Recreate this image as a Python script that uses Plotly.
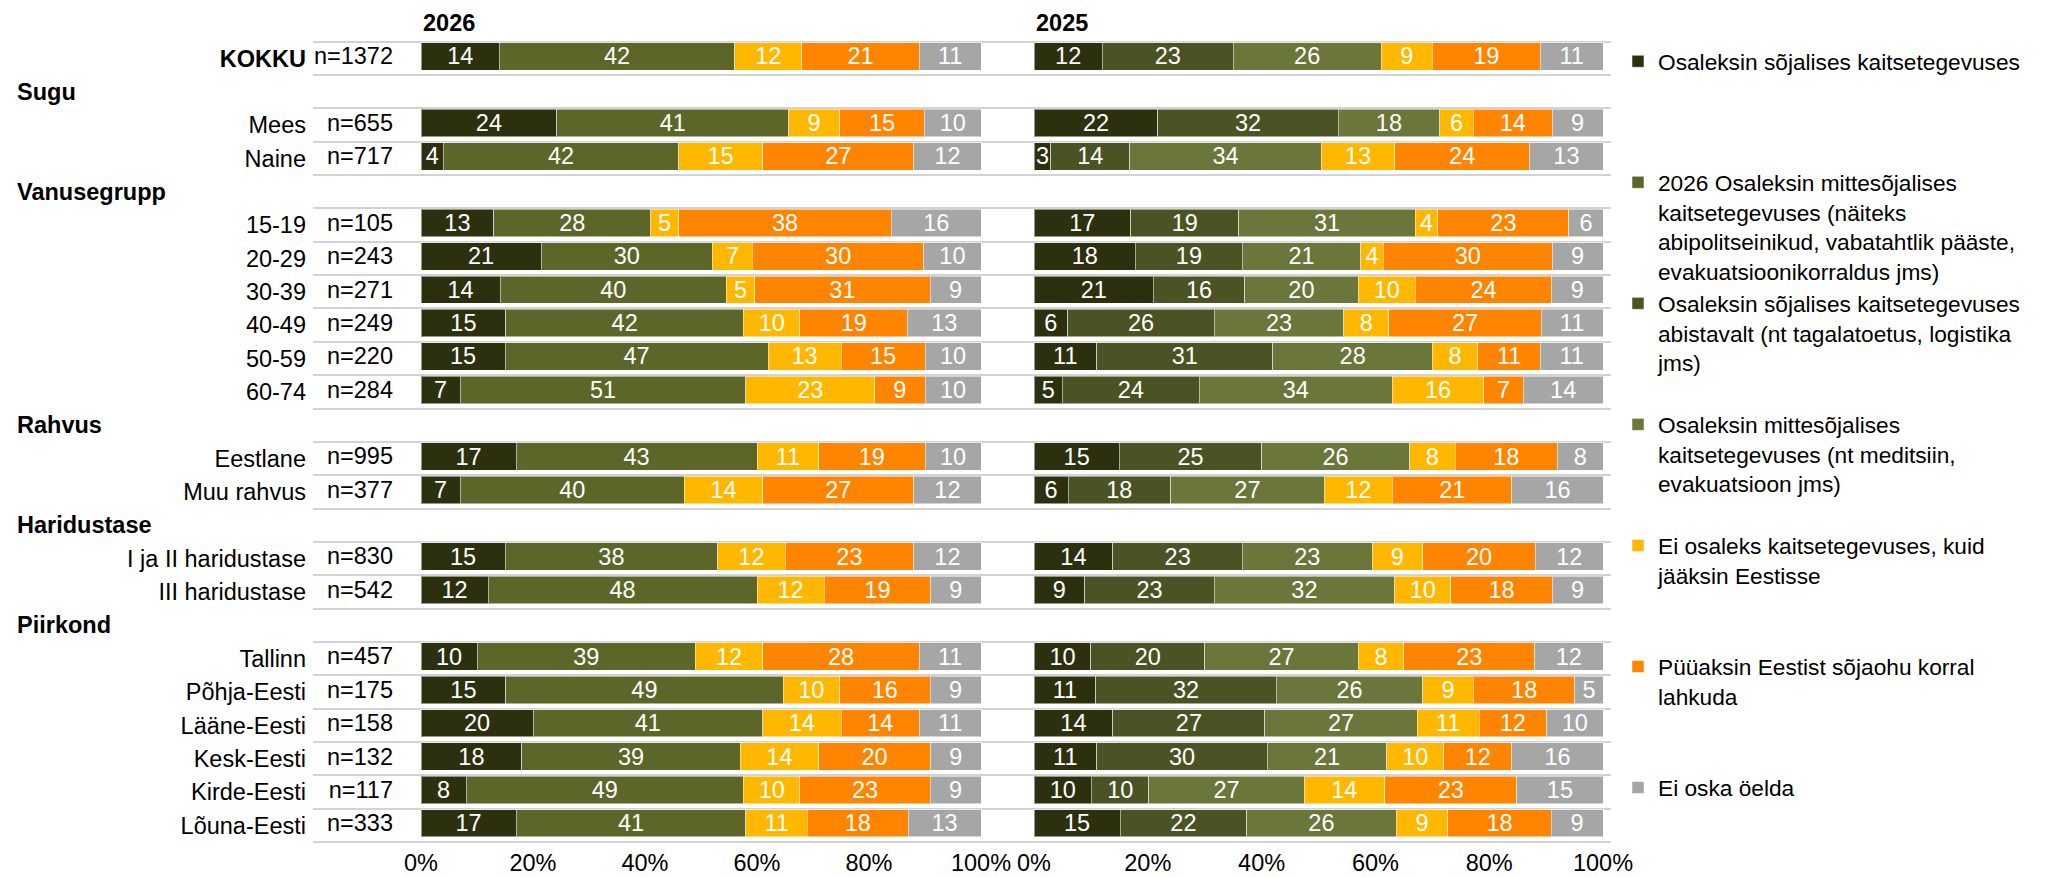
import plotly.graph_objects as go

W, H = 2045, 877
FS = 23.5
FS_LEG = 22.7
FONT = "Liberation Sans, Arial, sans-serif"

# ridade rühmad ja sildid
groups = ["", "Sugu", "Vanusegrupp", "Rahvus", "Haridustase", "Piirkond"]
group_sizes = [1, 2, 6, 2, 2, 6]
labels = ["KOKKU", "Mees", "Naine", "15-19", "20-29", "30-39", "40-49", "50-59", "60-74",
          "Eestlane", "Muu rahvus", "I ja II haridustase", "III haridustase",
          "Tallinn", "Põhja-Eesti", "Lääne-Eesti", "Kesk-Eesti", "Kirde-Eesti", "Lõuna-Eesti"]
n_values = [1372, 655, 717, 105, 243, 271, 249, 220, 284, 995, 377, 830, 542,
            457, 175, 158, 132, 117, 333]

# 2026
mil_2026 = [14, 24, 4, 13, 21, 14, 15, 15, 7, 17, 7, 15, 12, 10, 15, 20, 18, 8, 17]
civ_2026 = [42, 41, 42, 28, 30, 40, 42, 47, 51, 43, 40, 38, 48, 39, 49, 41, 39, 49, 41]
stay_2026 = [12, 9, 15, 5, 7, 5, 10, 13, 23, 11, 14, 12, 12, 12, 10, 14, 14, 10, 11]
leave_2026 = [21, 15, 27, 38, 30, 31, 19, 15, 9, 19, 27, 23, 19, 28, 16, 14, 20, 23, 18]
dk_2026 = [11, 10, 12, 16, 10, 9, 13, 10, 10, 10, 12, 12, 9, 11, 9, 11, 9, 9, 13]

# 2025
mil_2025 = [12, 22, 3, 17, 18, 21, 6, 11, 5, 15, 6, 14, 9, 10, 11, 14, 11, 10, 15]
aux_2025 = [23, 32, 14, 19, 19, 16, 26, 31, 24, 25, 18, 23, 23, 20, 32, 27, 30, 10, 22]
civ_2025 = [26, 18, 34, 31, 21, 20, 23, 28, 34, 26, 27, 23, 32, 27, 26, 27, 21, 27, 26]
stay_2025 = [9, 6, 13, 4, 4, 10, 8, 8, 16, 8, 12, 9, 10, 8, 9, 11, 10, 14, 9]
leave_2025 = [19, 14, 24, 23, 30, 24, 27, 11, 7, 18, 21, 20, 18, 23, 18, 12, 12, 23, 18]
dk_2025 = [11, 9, 13, 6, 9, 9, 11, 11, 14, 8, 16, 12, 9, 12, 5, 10, 16, 15, 9]

x_ticks = [0, 20, 40, 60, 80, 100]

names = {
    "mil": "Osaleksin sõjalises kaitsetegevuses",
    "civ26": "2026 Osaleksin mittesõjalises<br>kaitsetegevuses (näiteks<br>"
             "abipolitseinikud, vabatahtlik pääste,<br>evakuatsioonikorraldus jms)",
    "aux": "Osaleksin sõjalises kaitsetegevuses<br>abistavalt (nt tagalatoetus, logistika<br>jms)",
    "civ25": "Osaleksin mittesõjalises<br>kaitsetegevuses (nt meditsiin,<br>evakuatsioon jms)",
    "stay": "Ei osaleks kaitsetegevuses, kuid<br>jääksin Eestisse",
    "leave": "Püüaksin Eestist sõjaohu korral<br>lahkuda",
    "dk": "Ei oska öelda",
}
colors = {
    "mil": "#2D300E", "civ26": "#5C6629", "aux": "#4B5324", "civ25": "#6A763A",
    "stay": "#FFB700", "leave": "#FF8400", "dk": "#A6A6A6",
}

# ridade asukohad (päised eraldi ridadel)
row_pos, header_pos = [], {}
pos = 0
for g, size in zip(groups, group_sizes):
    if g:
        header_pos[g] = pos
        pos += 1
    for _ in range(size):
        row_pos.append(pos)
        pos += 1
n_rows = pos


def pad(s, lines=4):
    # legendi kirjed ühekõrgused (viimane jääb lühikeseks)
    if s == names["dk"]:
        return s
    return s + "<br>\u00a0" * (lines - s.count("<br>") - 1)


def bar(values, key, xa, ya, show):
    return go.Bar(
        x=values, y=row_pos, orientation="h",
        name=pad(names[key]), showlegend=show,
        text=values, texttemplate="%{text}",
        textposition="inside", insidetextanchor="middle", textangle=0,
        textfont=dict(color="white", size=FS, family=FONT),
        marker=dict(color=colors[key], line=dict(color="rgba(255,255,255,0.5)", width=1)),
        width=0.82, offset=-0.47,
        xaxis=xa, yaxis=ya,
        hovertemplate="%{text}<extra></extra>",
    )


fig = go.Figure()
fig.add_trace(bar(mil_2026, "mil", "x", "y", True))
fig.add_trace(bar(mil_2025, "mil", "x2", "y2", False))
fig.add_trace(bar(civ_2026, "civ26", "x", "y", True))
fig.add_trace(bar(aux_2025, "aux", "x2", "y2", True))
fig.add_trace(bar(civ_2025, "civ25", "x2", "y2", True))
fig.add_trace(bar(stay_2026, "stay", "x", "y", True))
fig.add_trace(bar(stay_2025, "stay", "x2", "y2", False))
fig.add_trace(bar(leave_2026, "leave", "x", "y", True))
fig.add_trace(bar(leave_2025, "leave", "x2", "y2", False))
fig.add_trace(bar(dk_2026, "dk", "x", "y", True))
fig.add_trace(bar(dk_2025, "dk", "x2", "y2", False))

# n= sildid
fig.add_trace(go.Scatter(
    x=[-5.0] * len(n_values), y=row_pos, mode="text",
    text=[f"n={n}" for n in n_values], textposition="middle left",
    textfont=dict(size=FS, color="black", family=FONT),
    showlegend=False, hoverinfo="skip", xaxis="x", yaxis="y",
))

# pikslid -> paber
x26_0, x26_100 = 421, 981
x25_0, x25_100 = 1034, 1603
left, mid, right = 313, 1008, 1611
top, bottom = 41.7, 842
row_h = (bottom - top) / n_rows
e = 0.04  # väike varu, et ülemine/alumine joon jääks näha
k26 = (x26_100 - x26_0) / 100
k25 = (x25_100 - x25_0) / 100

grid = dict(tick0=0.5, dtick=1, showgrid=True, gridcolor="#D3D3D3", gridwidth=2, ticks="")
xcommon = dict(tickvals=x_ticks, ticktext=[f"{v}%" for v in x_ticks], showgrid=False,
               zeroline=False, showline=False, ticks="", ticklabelstandoff=3,
               tickfont=dict(size=FS, color="black", family=FONT))
ydom = [1 - (bottom + e * row_h) / H, 1 - (top - e * row_h) / H]
yrange = [n_rows - 0.5 + e, -0.5 - e]

ticktext = ["<b>KOKKU</b>"] + labels[1:]

fig.update_layout(
    width=W, height=H,
    # legend ei tohi joonise ala kokku suruda
    margin=dict(l=0, r=0, t=0, b=0, autoexpand=False),
    barmode="stack", barnorm="percent",
    plot_bgcolor="white", paper_bgcolor="white",
    font=dict(family=FONT, size=FS, color="black"),
    uniformtext=dict(minsize=FS, mode="show"),
    xaxis=dict(domain=[left / W, mid / W],
               range=[(left - x26_0) / k26, (mid - x26_0) / k26], anchor="y", **xcommon),
    xaxis2=dict(domain=[mid / W, right / W],
                range=[(mid - x25_0) / k25, (right - x25_0) / k25], anchor="y2", **xcommon),
    yaxis=dict(domain=ydom, range=yrange,
               tickvals=row_pos, ticktext=ticktext, showgrid=False, zeroline=False,
               ticks="", ticklabelstandoff=6, minor=grid, anchor="x",
               tickfont=dict(size=FS, color="black", family=FONT)),
    yaxis2=dict(domain=ydom, range=yrange,
                showticklabels=False, showgrid=False, zeroline=False, ticks="",
                minor=grid, anchor="x2"),
    legend=dict(x=1618 / W, xanchor="left", y=1 - 40 / H, yanchor="top",
                valign="top", traceorder="normal", tracegroupgap=0,
                bgcolor="rgba(0,0,0,0)", font=dict(size=FS_LEG, color="black", family=FONT)),
)

annotations = []
for g, p in header_pos.items():
    annotations.append(dict(text=f"<b>{g}</b>", xref="paper", x=15 / W, xanchor="left",
                            yref="y", y=p, yanchor="middle", showarrow=False,
                            font=dict(size=FS, color="black", family=FONT)))
for year, xr in [("2026", "x"), ("2025", "x2")]:
    annotations.append(dict(text=f"<b>{year}</b>", xref=xr, x=0, xanchor="left",
                            yref="paper", y=1 - 23 / H, yanchor="middle", showarrow=False,
                            font=dict(size=FS, color="black", family=FONT)))
fig.update_layout(annotations=annotations)

# lehe vaikimisi äär ja kerimisribad maha, et joonis algaks nurgast
fig.write_html(
    "out.html",
    config={"displayModeBar": False},
    post_script="document.body.style.margin='0';document.body.style.overflow='hidden';",
)
